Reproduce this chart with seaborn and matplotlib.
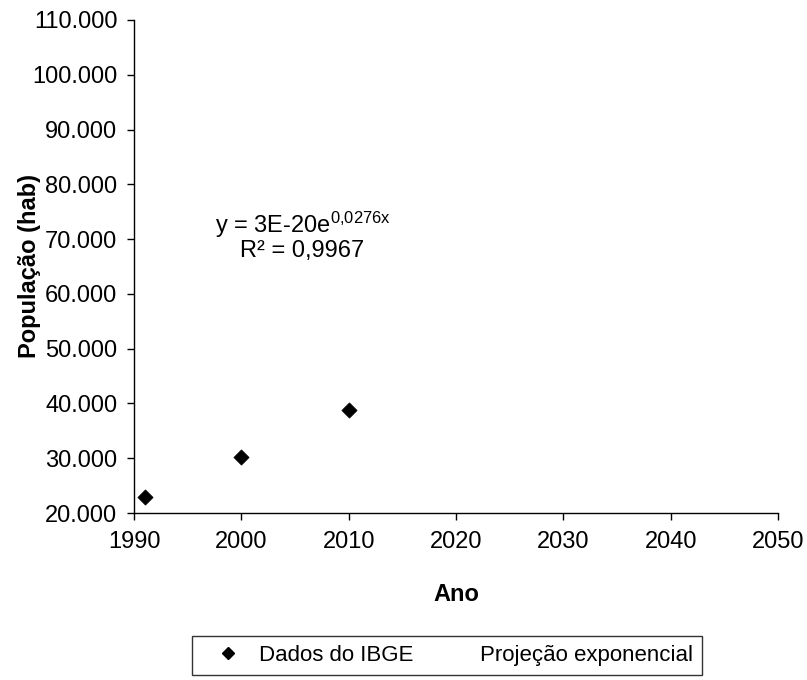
import matplotlib
matplotlib.use("Agg")
import matplotlib.pyplot as plt
import seaborn as sns
import pandas as pd
from matplotlib.lines import Line2D

sns.set_theme(style="white")
plt.rcParams['font.family'] = ['Liberation Sans', 'DejaVu Sans']
plt.rcParams.update({
    "text.color": "black",
    "axes.labelcolor": "black",
    "xtick.color": "black",
    "ytick.color": "black",
    "mathtext.fontset": "custom",
    "mathtext.rm": "Liberation Sans",
    "mathtext.it": "Liberation Sans",
    "mathtext.default": "regular",
})

# Censos do IBGE
anos = [1991, 2000, 2010]
populacao = [22900, 30200, 38800]

y_ticks = [20000, 30000, 40000, 50000, 60000, 70000, 80000, 90000, 100000, 110000]
y_labels = ["20.000", "30.000", "40.000", "50.000", "60.000", "70.000",
            "80.000", "90.000", "100.000", "110.000"]
x_ticks = [1990, 2000, 2010, 2020, 2030, 2040, 2050]

equacao = r"y = 3E-20e$^{0{,}0276x}$"
r2 = "R² = 0,9967"

df = pd.DataFrame({"Ano": anos, "Populacao": populacao})

fig = plt.figure(figsize=(8.07, 6.8), dpi=100)
ax = fig.add_axes([134 / 807, 1 - 513 / 680, 644 / 807, 493 / 680])

sns.scatterplot(data=df, x="Ano", y="Populacao", marker="D", s=60,
                color="black", edgecolor="black", linewidth=0.5,
                ax=ax, legend=False, clip_on=False, zorder=3)

ax.set_xlim(1990, 2050)
ax.set_ylim(20000, 110000)
ax.set_xticks(x_ticks)
ax.set_yticks(y_ticks)
ax.set_yticklabels(y_labels)
ax.tick_params(axis="x", labelsize=17, length=5, width=1, pad=8,
               direction="out", bottom=True)
ax.tick_params(axis="y", labelsize=17, length=5, width=1, pad=7,
               direction="out", left=True)
for s in ["top", "right"]:
    ax.spines[s].set_visible(False)
for s in ["left", "bottom"]:
    ax.spines[s].set_color("black")
    ax.spines[s].set_linewidth(1)

ax.set_xlabel("Ano", fontsize=17, fontweight="bold")
ax.set_ylabel("População (hab)", fontsize=17, fontweight="bold")
ax.xaxis.set_label_coords(0.5, -0.143)
ax.yaxis.set_label_coords(-0.144, 0.5)

ax.text(1997.55, 71100, equacao, fontsize=17, ha="left", va="baseline")
ax.text(2005.65, 66700, r2, fontsize=17, ha="center", va="baseline")

handles = [
    Line2D([], [], marker="D", color="black", linestyle="none", markersize=6.5),
    Line2D([], [], color="none"),
]
leg = fig.legend(handles, ["Dados do IBGE", "Projeção exponencial"],
                 loc="center left", bbox_to_anchor=(192 / 807, 1 - 655.5 / 680),
                 borderaxespad=0, ncol=2, frameon=True, fancybox=False,
                 fontsize=16, handlelength=2.47, handletextpad=0.14,
                 columnspacing=0.4, borderpad=0.4)
leg.get_frame().set_edgecolor("black")
leg.get_frame().set_linewidth(1)

fig.savefig("out.png", dpi=100)
